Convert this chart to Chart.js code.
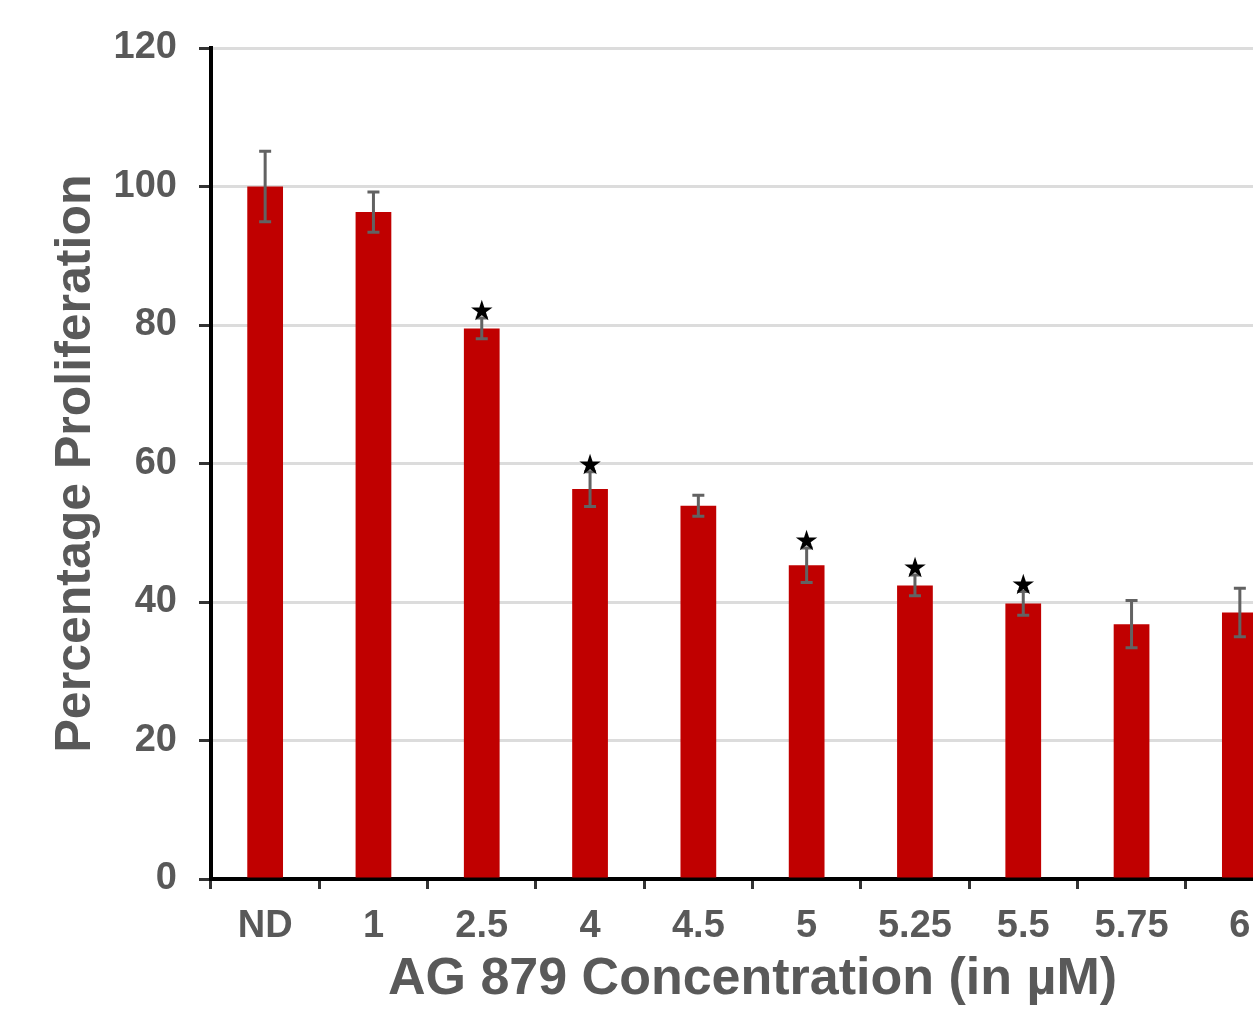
<!DOCTYPE html>
<html>
<head>
<meta charset="utf-8">
<script src="https://cdn.jsdelivr.net/npm/chart.js@4"></script>
<style>
  html, body { margin: 0; padding: 0; background: #fff; overflow: hidden; }
  #wrap { position: absolute; left: 0; top: 0; width: 1300px; height: 1011px; }
</style>
</head>
<body>
<div id="wrap"><canvas id="grafico"></canvas></div>
<script>
const categories = ["ND", "1", "2.5", "4", "4.5", "5", "5.25", "5.5", "5.75", "6"];
const proliferation = [100, 96.3, 79.5, 56.3, 53.9, 45.3, 42.4, 39.8, 36.8, 38.5];
const errors = [5.1, 2.9, 1.5, 2.5, 1.5, 2.5, 1.5, 1.7, 3.4, 3.5];
const significant = [false, false, true, true, false, true, true, true, false, false];
const yTicks = [0, 20, 40, 60, 80, 100, 120];

const labelColor = "#595959";
const fontFamily = "'Liberation Sans', Arial, sans-serif";

// error bars + stars, positioned through the chart scales
const errorBarPlugin = {
  id: "errorBars",
  afterDatasetsDraw(chart) {
    const ctx = chart.ctx;
    const xs = chart.scales.x;
    const ys = chart.scales.y;
    ctx.save();
    proliferation.forEach(function (v, i) {
      const x = xs.getPixelForValue(i);
      const yTop = ys.getPixelForValue(v + errors[i]);
      const yBot = ys.getPixelForValue(v - errors[i]);
      ctx.strokeStyle = "#626262";
      ctx.lineWidth = 3;
      ctx.beginPath();
      ctx.moveTo(x, yTop);
      ctx.lineTo(x, yBot);
      ctx.moveTo(x - 6, yTop);
      ctx.lineTo(x + 6, yTop);
      ctx.moveTo(x - 6, yBot);
      ctx.lineTo(x + 6, yBot);
      ctx.stroke();
      if (significant[i]) {
        ctx.fillStyle = "#000";
        ctx.font = "28px 'DejaVu Sans', sans-serif";
        ctx.textAlign = "center";
        ctx.textBaseline = "middle";
        ctx.fillText("\u2605", x, yTop - 5);
      }
    });
    ctx.restore();
  },
};

const ctx = document.getElementById("grafico").getContext("2d");
new Chart(ctx, {
  type: "bar",
  data: {
    labels: categories,
    datasets: [
      {
        label: "Percentage Proliferation",
        data: proliferation,
        backgroundColor: "#c00000",
        barPercentage: 0.33,
        categoryPercentage: 1.0,
      },
    ],
  },
  options: {
    responsive: true,
    maintainAspectRatio: false,
    animation: false,
    layout: { padding: { left: 46, top: 48, right: 6, bottom: 0 } },
    plugins: { legend: { display: false }, tooltip: { enabled: false } },
    scales: {
      x: {
        afterFit(axis) { axis.height = 132; },
        grid: {
          drawOnChartArea: false,
          offset: true,
          tickLength: 10,
          tickColor: "#333",
          tickWidth: 3,
        },
        border: { color: "#000", width: 4 },
        ticks: {
          color: labelColor,
          font: { family: fontFamily, size: 38, weight: "bold" },
          padding: 15,
          maxRotation: 0,
          autoSkip: false,
        },
        title: {
          display: true,
          text: "AG 879 Concentration (in \u00b5M)",
          color: labelColor,
          font: { family: fontFamily, size: 52, weight: "bold" },
          padding: { top: 0, bottom: 0 },
        },
      },
      y: {
        min: 0,
        max: 120,
        afterFit(axis) { axis.width = 165; },
        afterBuildTicks(axis) {
          axis.ticks = yTicks.map(function (v) { return { value: v }; });
        },
        grid: {
          color: "#dcdcdc",
          lineWidth: 3,
          tickLength: 12,
          tickColor: "#333",
          tickWidth: 3,
        },
        border: { color: "#000", width: 4 },
        ticks: {
          color: labelColor,
          font: { family: fontFamily, size: 38, weight: "bold" },
          padding: 22,
        },
        title: {
          display: true,
          text: "Percentage Proliferation",
          color: labelColor,
          font: { family: fontFamily, size: 50, weight: "bold" },
          padding: { top: 0, bottom: 8 },
        },
      },
    },
  },
  plugins: [errorBarPlugin],
});
</script>
</body>
</html>
